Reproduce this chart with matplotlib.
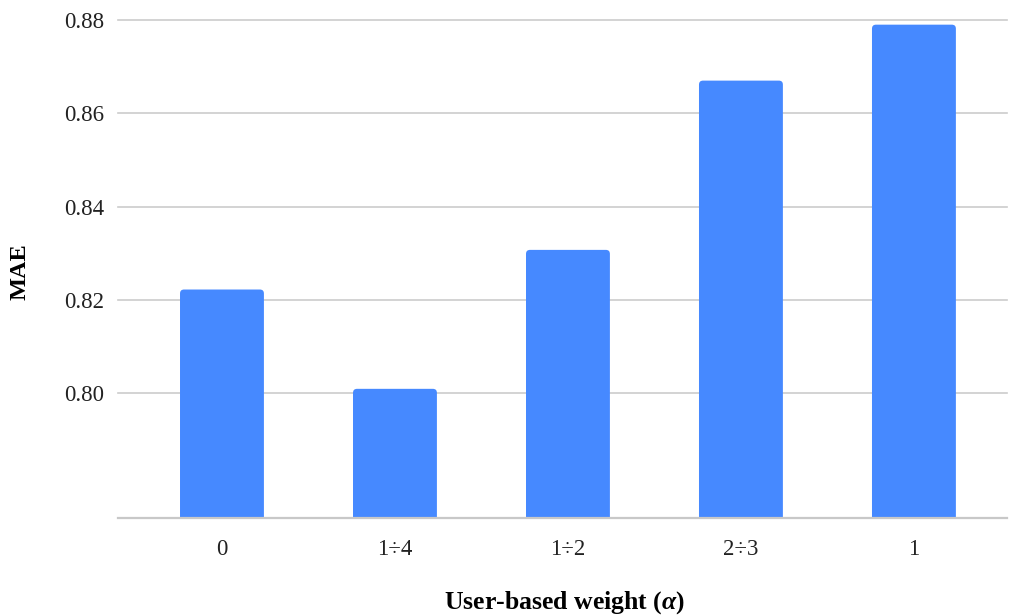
import matplotlib
matplotlib.use("Agg")
import matplotlib.pyplot as plt
from matplotlib.patches import FancyBboxPatch

categories = ["0", "1÷4", "1÷2", "2÷3", "1"]
mae_values = [0.8222, 0.8009, 0.8307, 0.8670, 0.8790]
y_ticks = [0.80, 0.82, 0.84, 0.86, 0.88]

plt.rcParams['font.family'] = ['Liberation Serif', 'DejaVu Serif']
plt.rcParams['mathtext.fontset'] = 'custom'
plt.rcParams['mathtext.it'] = 'Liberation Serif:italic:bold'
plt.rcParams['mathtext.rm'] = 'Liberation Serif:bold'

fig = plt.figure(figsize=(10.09, 6.16), dpi=100)
ax = fig.add_axes([118/1009, 1-518/616, (1007-118)/1009, (518-20)/616])

ymin, ymax = 0.7732, 0.88
ax.set_ylim(ymin, ymax)
ax.set_xlim(-0.601, 4.538)

bar_w = 0.485
color = "#4689FF"
px_x = 173.0          # pixels per x unit
px_y = 93.3 / 0.02    # pixels per y unit
r_px = 4.0
for i, v in enumerate(mae_values):
    x0 = i - bar_w / 2
    y0 = ymin - 0.002
    p = FancyBboxPatch((x0, y0), bar_w, v - y0,
                       boxstyle=f"round,pad=0,rounding_size={r_px/px_x}",
                       mutation_aspect=px_x / px_y,
                       facecolor=color, edgecolor='none', zorder=3)
    ax.add_patch(p)

ax.set_yticks(y_ticks)
ax.set_yticklabels([f"{t:.2f}" for t in y_ticks])
ax.set_xticks(range(len(categories)))
ax.set_xticklabels(categories)

for t in y_ticks:
    ax.axhline(t, color="#cccccc", lw=1.2, zorder=1, clip_on=False)
ax.axhline(ymin, color="#c8c8c8", lw=1.6, zorder=4, clip_on=False)

for s in ax.spines.values():
    s.set_visible(False)
ax.tick_params(axis='both', length=0, labelsize=16.5, colors="#222222")
ax.tick_params(axis='y', pad=10)
ax.tick_params(axis='x', pad=15)

fig.text(20/1009, 1-272/616, "MAE", rotation=90, ha='center', va='center',
         fontsize=17.5, fontweight='bold')
fig.text(565/1009, 1-603/616, "User-based weight ($\\alpha$)", ha='center', va='center',
         fontsize=18.5, fontweight='bold')

fig.savefig("out.png", dpi=100)
